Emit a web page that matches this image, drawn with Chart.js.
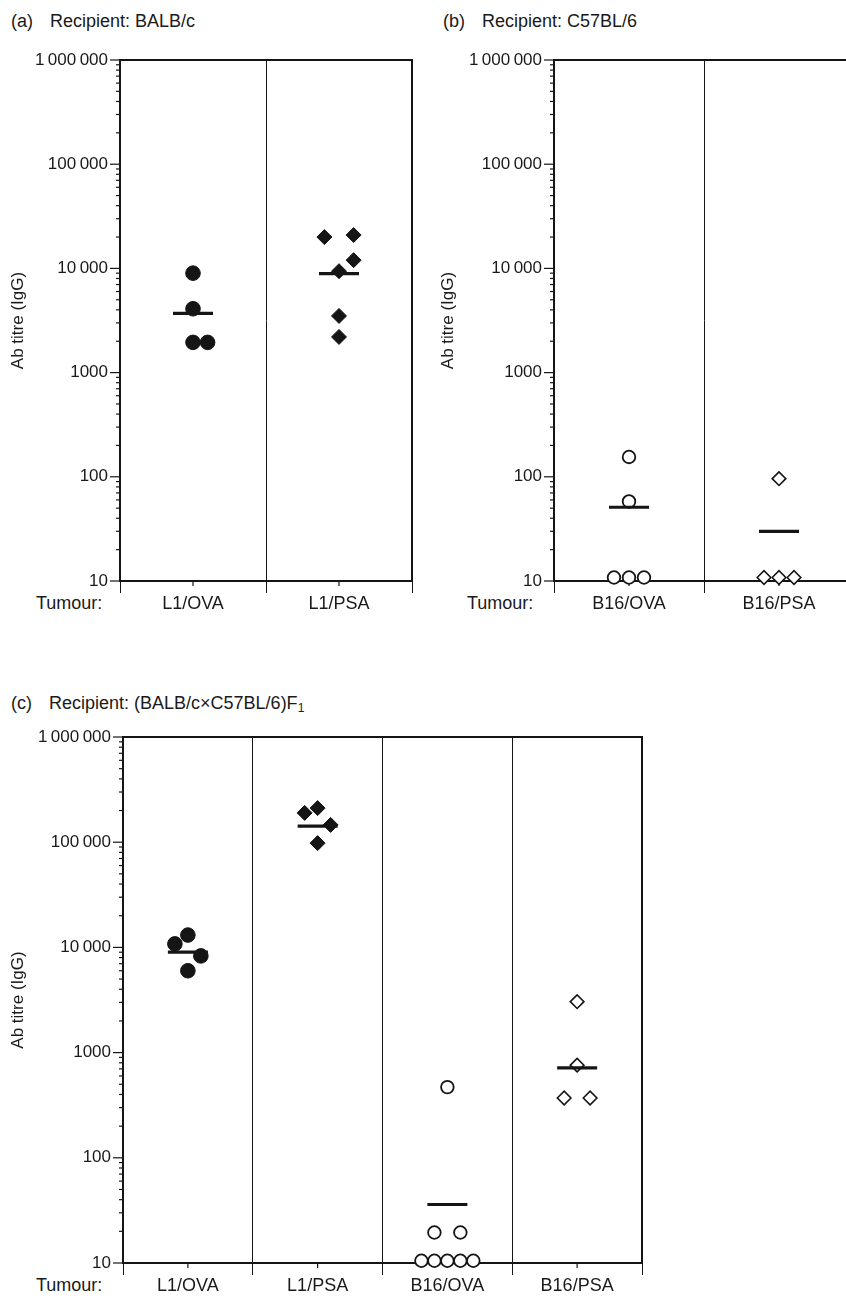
<!DOCTYPE html>
<html><head><meta charset="utf-8">
<script src="https://cdn.jsdelivr.net/npm/chart.js@4.4.0/dist/chart.umd.min.js"></script>
<style>
html,body{margin:0;padding:0;background:#fff}
body{width:846px;height:1304px;position:relative;overflow:hidden;font-family:"Liberation Sans",Arial,sans-serif;color:#1a1a1a}
.t{position:absolute;font-size:18px;white-space:nowrap;line-height:20px;color:#1a1a1a}
canvas{position:absolute}
sub{font-size:12px;vertical-align:-3px;line-height:0;color:#1a1a1a}
</style></head><body>
<div class="t" style="left:11px;top:11px">(a)</div>
<div class="t" style="left:50px;top:11px">Recipient: BALB/c</div>
<div class="t" style="left:443px;top:11px">(b)</div>
<div class="t" style="left:482px;top:11px">Recipient: C57BL/6</div>
<div class="t" style="left:11px;top:693px">(c)</div>
<div class="t" style="left:49px;top:693px">Recipient: (BALB/c×C57BL/6)F<sub>1</sub></div>
<div class="t" style="left:36px;top:593px">Tumour:</div>
<div class="t" style="left:467px;top:593px">Tumour:</div>
<div class="t" style="left:36px;top:1275px">Tumour:</div>
<canvas id="ca" width="430" height="640" style="left:0;top:0"></canvas>
<canvas id="cb" width="430" height="640" style="left:430px;top:0"></canvas>
<canvas id="cc" width="846" height="644" style="left:0;top:660px"></canvas>
<script>
// ---------- data ----------
const yTickValues = [10, 100, 1000, 10000, 100000, 1000000];
const yTickLabels = ['10', '100', '1000', '10\u2009000', '100\u2009000', '1\u2009000\u2009000'];
const axisTitle = 'Ab titre (IgG)';

// (a) Recipient: BALB/c
const catsA = ['L1/OVA', 'L1/PSA'];
const a_L1OVA = [9000, 4100, 1950, 1950];
const a_L1OVA_slot = [0, 0, 0, 1];
const a_L1PSA = [20000, 20900, 12000, 9400, 3500, 2200];
const a_L1PSA_slot = [-1, 1, 1, 0, 0, 0];
const a_means = [3700, 8900];

// (b) Recipient: C57BL/6
const catsB = ['B16/OVA', 'B16/PSA'];
const b_B16OVA = [155, 58, 10.8, 10.8, 10.8];
const b_B16OVA_slot = [0, 0, -1, 0, 1];
const b_B16PSA = [96, 10.8, 10.8, 10.8];
const b_B16PSA_slot = [0, -1, 0, 1];
const b_means = [51, 30];

// (c) Recipient: (BALB/c x C57BL/6)F1
const catsC = ['L1/OVA', 'L1/PSA', 'B16/OVA', 'B16/PSA'];
const c_L1OVA = [13100, 10800, 8300, 6000];
const c_L1OVA_slot = [0, -1, 1, 0];
const c_L1PSA = [190000, 211000, 146000, 98000];
const c_L1PSA_slot = [-1, 0, 1, 0];
const c_B16OVA = [470, 19.5, 19.5, 10.5, 10.5, 10.5, 10.5, 10.5];
const c_B16OVA_slot = [0, -1, 1, -2, -1, 0, 1, 2];
const c_B16PSA = [3050, 760, 370, 370];
const c_B16PSA_slot = [0, 0, -1, 1];
const c_means = [9000, 142000, 36, 715];

// ---------- drawing ----------
const INK = '#151515';
const SLOT = 0.1; // horizontal spread of coincident points, in category widths
const FONT = '"Liberation Sans", Arial, sans-serif';
Chart.defaults.font.family = FONT;
Chart.defaults.color = '#1a1a1a';

const styles = {
  filledCircle: {pointStyle: 'circle', pointRadius: 7.3, pointBackgroundColor: INK, pointBorderColor: INK, pointBorderWidth: 1},
  filledDiamond: {pointStyle: 'rectRot', pointRadius: 7.5, pointBackgroundColor: INK, pointBorderColor: INK, pointBorderWidth: 1},
  openCircle: {pointStyle: 'circle', pointRadius: 6.3, pointBackgroundColor: '#fff', pointBorderColor: INK, pointBorderWidth: 1.8},
  openDiamond: {pointStyle: 'rectRot', pointRadius: 6.8, pointBackgroundColor: '#fff', pointBorderColor: INK, pointBorderWidth: 1.6}
};

function groupDataset(catIndex, values, slots, style) {
  return Object.assign({
    data: values.map((v, i) => ({x: catIndex + 0.5 + slots[i] * SLOT, y: v})),
    showLine: false, clip: false
  }, styles[style]);
}
function meanDataset(means) {
  return {
    data: means.map((m, i) => ({x: i + 0.5, y: m})),
    showLine: false, clip: false, pointStyle: 'line', pointRadius: 20,
    pointBorderColor: INK, pointBorderWidth: 3.2
  };
}

const decoPlugin = {
  id: 'deco',
  beforeDatasetsDraw(chart, args, opts) {
    const {ctx, chartArea: {left, right, top, bottom}, scales: {x, y}} = chart;
    const cats = opts.cats || [];
    ctx.save();
    ctx.strokeStyle = INK;
    ctx.lineWidth = 1.2;
    y.ticks.forEach(t => {
      const py = y.getPixelForValue(t.value);
      const len = yTickValues.includes(t.value) ? 10 : 4;
      ctx.beginPath(); ctx.moveTo(left - len, py); ctx.lineTo(left, py); ctx.stroke();
    });
    ctx.fillStyle = '#1a1a1a';
    ctx.font = '18px ' + FONT;
    ctx.textAlign = 'center';
    ctx.textBaseline = 'middle';
    cats.forEach((c, i) => {
      const px = x.getPixelForValue(i + 0.5);
      ctx.beginPath(); ctx.moveTo(px, bottom); ctx.lineTo(px, bottom + 5); ctx.stroke();
      ctx.fillText(c, px, bottom + 23);
    });
    ctx.lineWidth = 2;
    ctx.strokeRect(left, top, right - left, bottom - top);
    ctx.restore();
  }
};

function makeChart(id, cats, datasets, g) {
  const n = cats.length;
  const canvas = document.getElementById(id);
  return new Chart(canvas, {
    type: 'scatter',
    data: {datasets},
    plugins: [decoPlugin],
    options: {
      responsive: false, animation: false, events: [],
      layout: {autoPadding: false, padding: {top: g.top, right: g.right, left: 0, bottom: 0}},
      plugins: {legend: {display: false}, tooltip: {enabled: false}, deco: {cats}},
      scales: {
        x: {
          type: 'linear', min: 0, max: n,
          afterBuildTicks: s => { const t = []; for (let i = 0; i <= n; i++) t.push({value: i}); s.ticks = t; },
          afterFit: s => { s.height = g.xh; },
          ticks: {display: false},
          grid: {drawOnChartArea: true, drawTicks: true, tickLength: 12, lineWidth: 1, color: INK, tickColor: INK},
          border: {display: false}
        },
        y: {
          type: 'logarithmic', min: 10, max: 1000000,
          afterBuildTicks: s => {
            const t = [];
            for (let d = 0; d < yTickValues.length; d++) {
              const base = yTickValues[d];
              t.push({value: base, major: true});
              if (d < yTickValues.length - 1) for (let k = 2; k <= 9; k++) t.push({value: base * k, major: false});
            }
            s.ticks = t;
          },
          afterFit: s => { s.width = g.yw; },
          ticks: {autoSkip: false, padding: 12, font: {size: 17}, color: '#1a1a1a',
            callback: v => { const i = yTickValues.indexOf(v); return i >= 0 ? yTickLabels[i] : ''; }},
          grid: {drawOnChartArea: false, drawTicks: false},
          border: {display: false},
          title: {display: true, text: axisTitle, font: {size: 17}, color: '#1a1a1a', padding: {top: 8, bottom: 0}}
        }
      }
    }
  });
}

makeChart('ca', catsA, [
  meanDataset(a_means),
  groupDataset(0, a_L1OVA, a_L1OVA_slot, 'filledCircle'),
  groupDataset(1, a_L1PSA, a_L1PSA_slot, 'filledDiamond')
], {top: 60, right: 18, yw: 120, xh: 59});

makeChart('cb', catsB, [
  meanDataset(b_means),
  groupDataset(0, b_B16OVA, b_B16OVA_slot, 'openCircle'),
  groupDataset(1, b_B16PSA, b_B16PSA_slot, 'openDiamond')
], {top: 60, right: 6, yw: 124, xh: 59});

makeChart('cc', catsC, [
  meanDataset(c_means),
  groupDataset(0, c_L1OVA, c_L1OVA_slot, 'filledCircle'),
  groupDataset(1, c_L1PSA, c_L1PSA_slot, 'filledDiamond'),
  groupDataset(2, c_B16OVA, c_B16OVA_slot, 'openCircle'),
  groupDataset(3, c_B16PSA, c_B16PSA_slot, 'openDiamond')
], {top: 77, right: 204, yw: 123, xh: 41});
</script>
</body></html>
